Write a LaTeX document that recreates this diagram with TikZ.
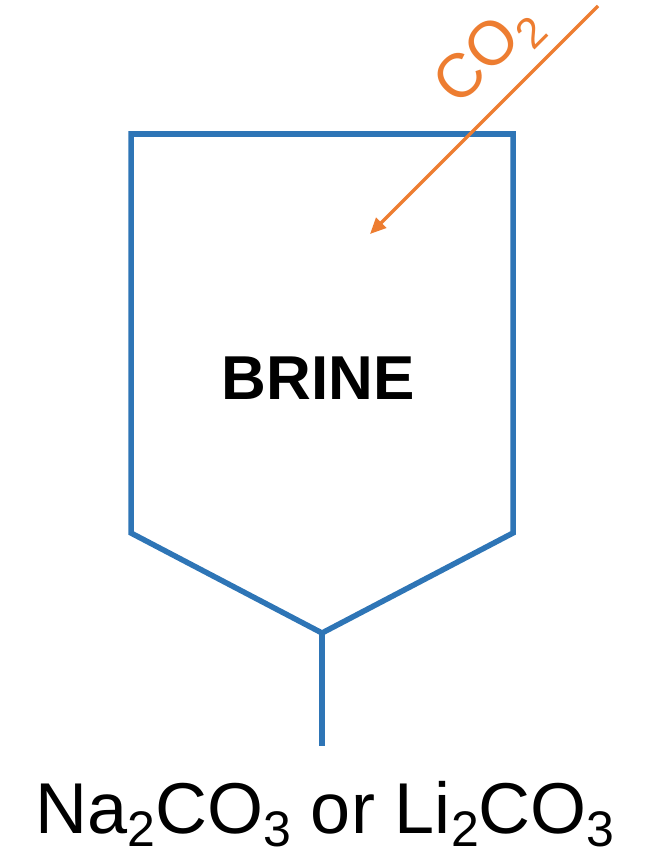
\documentclass[tikz,border=0pt]{standalone}
\usepackage{fontspec}
\setmainfont{Liberation Sans}
\usetikzlibrary{arrows.meta}
\definecolor{tankblue}{HTML}{2E75B6}
\definecolor{gasorange}{HTML}{ED7D31}
\begin{document}
\begin{tikzpicture}[x=1pt,y=-1pt,
  tank/.style={draw=tankblue,line width=5.5pt,line join=miter},
  gas/.style={draw=gasorange,line width=3.2pt,-{Triangle[length=16pt,width=14pt]}},
  lbl/.style={inner sep=0pt,outer sep=0pt}]
\useasboundingbox (0,0) rectangle (648,856);
% tank outline
\coordinate (tl) at (131,134);
\coordinate (tr) at (513,134);
\coordinate (br) at (513,533);
\coordinate (bl) at (131,533);
\coordinate (vtip) at (322,633);
\coordinate (stemend) at (322,746);
\draw[tank] (bl) -- (tl) -- (tr) -- (br) -- (vtip) -- cycle;
\draw[tank] (vtip) -- (stemend);
% label inside
\node[lbl,font=\fontsize{62}{62}\selectfont\bfseries] (brine) at (318,378) {BRINE};
% CO2 arrow
\coordinate (co2start) at (598,6);
\coordinate (co2end) at (370,234);
\draw[gas] (co2start) -- (co2end);
\node[lbl,rotate=45,anchor=base west,text=gasorange,font=\fontsize{62}{62}\selectfont] (co2) at (458,107)
  {CO\raisebox{-14pt}{\fontsize{43}{43}\selectfont 2}};
% product text
\node[lbl,anchor=base,font=\fontsize{72}{72}\selectfont] (prod) at (325,833)
  {Na\raisebox{-13pt}{\fontsize{50}{50}\selectfont 2}CO\raisebox{-13pt}{\fontsize{50}{50}\selectfont 3} or Li\raisebox{-13pt}{\fontsize{50}{50}\selectfont 2}CO\raisebox{-13pt}{\fontsize{50}{50}\selectfont 3}};
\end{tikzpicture}
\end{document}
